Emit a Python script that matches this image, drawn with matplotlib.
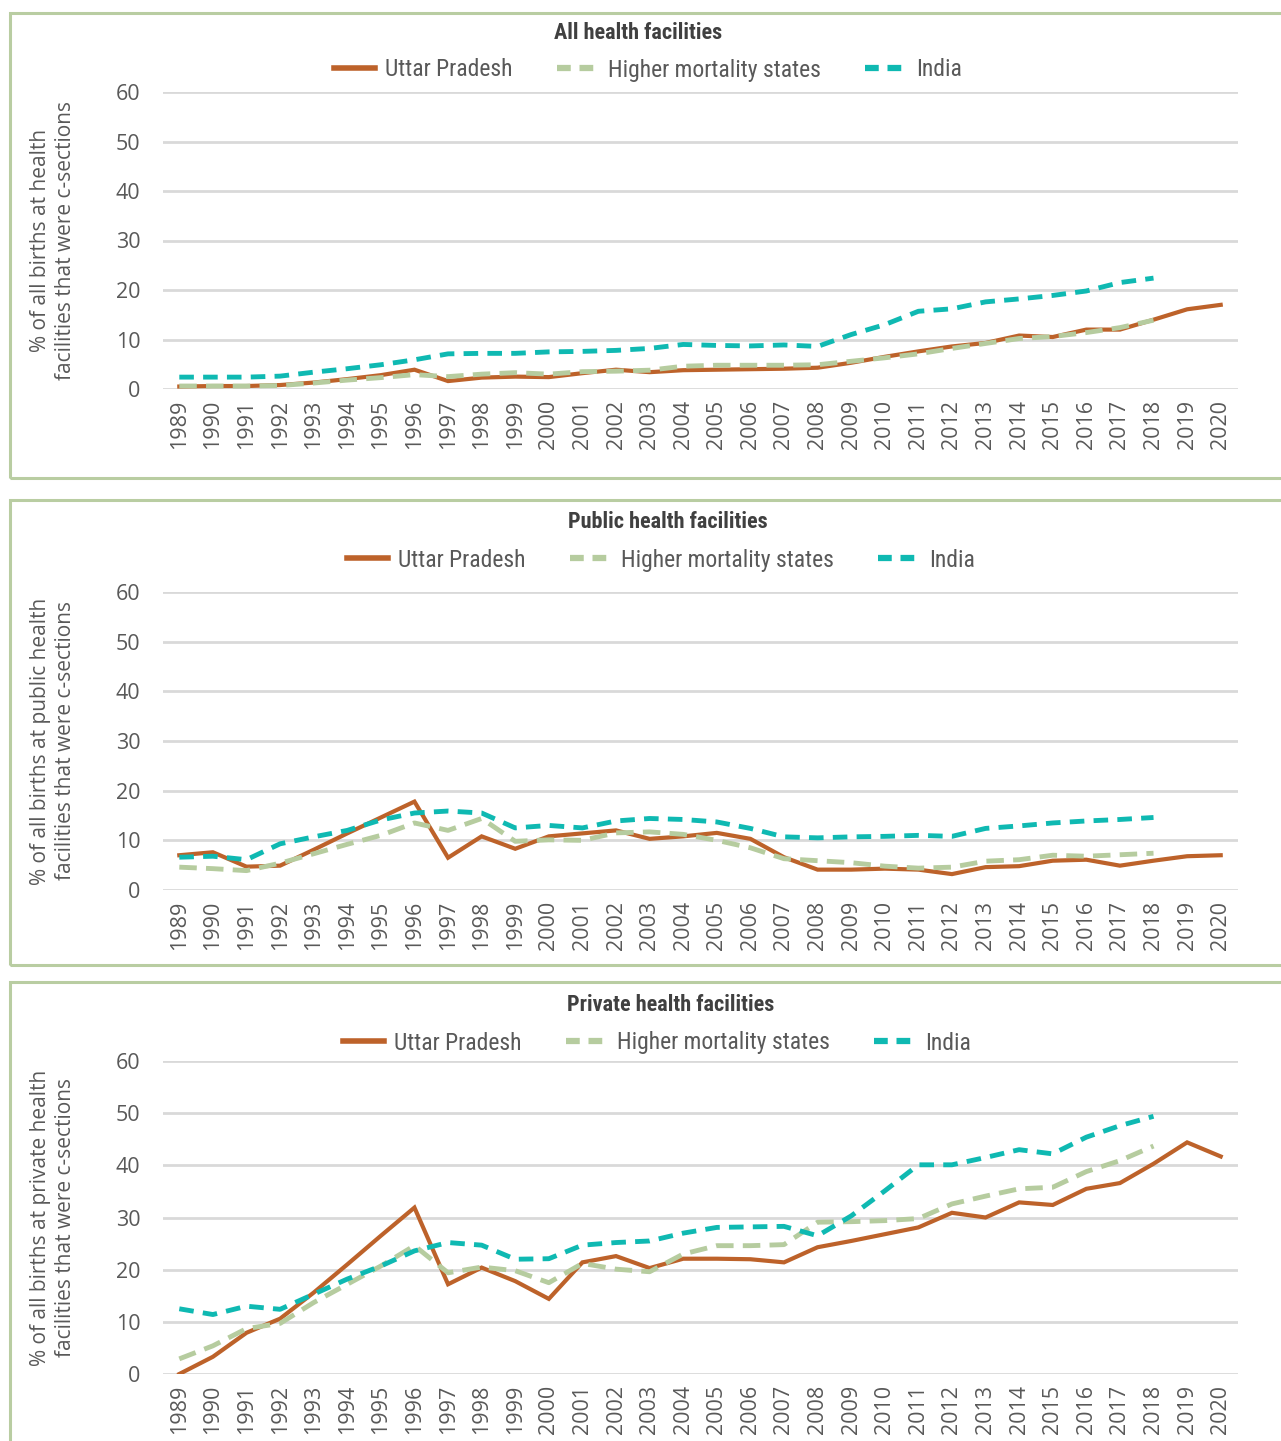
import matplotlib
matplotlib.use("Agg")
import matplotlib.pyplot as plt
from matplotlib import font_manager
from matplotlib.patches import Rectangle
from matplotlib.lines import Line2D

years = list(range(1989, 2021))
years_to2018 = list(range(1989, 2019))

all_up = [0.5, 0.6, 0.6, 0.8, 1.3, 2.0, 2.8, 3.9, 1.6, 2.3, 2.5, 2.4, 3.2, 3.9, 3.4, 3.8,
          3.9, 4.0, 4.1, 4.3, 5.3, 6.5, 7.6, 8.6, 9.3, 10.8, 10.5, 12.0, 12.0, 14.0, 16.1, 17.0]
all_hms = [0.6, 0.6, 0.6, 0.7, 1.2, 1.8, 2.3, 2.9, 2.5, 3.0, 3.3, 3.0, 3.5, 3.6, 3.8, 4.6,
           4.8, 4.8, 4.8, 4.9, 5.6, 6.3, 7.1, 8.2, 9.2, 10.2, 10.6, 11.4, 12.4, 13.9]
all_india = [2.4, 2.4, 2.4, 2.6, 3.4, 4.1, 4.9, 5.9, 7.1, 7.2, 7.2, 7.5, 7.6, 7.8, 8.2, 9.0,
             8.8, 8.7, 8.9, 8.6, 11.0, 13.0, 15.7, 16.2, 17.6, 18.2, 18.9, 19.8, 21.5, 22.4]

pub_up = [7.0, 7.6, 4.7, 4.9, 8.1, 11.4, 14.6, 17.8, 6.5, 10.8, 8.3, 10.8, 11.4, 12.0, 10.3, 10.8,
          11.5, 10.3, 6.6, 4.1, 4.1, 4.3, 4.1, 3.2, 4.6, 4.8, 5.9, 6.1, 4.9, 5.9, 6.8, 7.0]
pub_hms = [4.6, 4.3, 3.9, 5.4, 7.3, 9.2, 11.0, 13.5, 12.0, 14.4, 9.8, 10.1, 10.0, 11.5, 11.7, 11.2,
           10.0, 8.5, 6.3, 5.9, 5.5, 4.8, 4.4, 4.6, 5.8, 6.1, 7.0, 6.8, 7.1, 7.4]
pub_india = [6.6, 6.8, 6.1, 9.3, 10.7, 12.0, 14.1, 15.5, 15.9, 15.5, 12.5, 13.0, 12.5, 13.9, 14.4, 14.2,
             13.7, 12.4, 10.7, 10.5, 10.7, 10.8, 11.0, 10.8, 12.4, 12.9, 13.5, 13.9, 14.2, 14.6]

priv_up = [0.0, 3.3, 7.9, 10.6, 15.6, 21.0, 26.5, 31.9, 17.2, 20.4, 17.8, 14.4, 21.4, 22.6, 20.3, 22.1,
           22.1, 22.0, 21.4, 24.3, 25.5, 26.8, 28.1, 30.9, 30.0, 32.9, 32.4, 35.5, 36.6, 40.3, 44.4, 41.7]
priv_hms = [2.9, 5.4, 8.7, 9.7, 13.7, 17.2, 20.7, 24.6, 19.4, 20.5, 19.8, 17.5, 21.2, 20.1, 19.6, 23.0,
            24.6, 24.6, 24.8, 29.1, 29.2, 29.4, 29.8, 32.6, 34.1, 35.5, 35.8, 38.8, 40.9, 43.7]
priv_india = [12.5, 11.4, 13.0, 12.4, 15.3, 18.2, 20.7, 23.6, 25.2, 24.7, 22.0, 22.1, 24.7, 25.2, 25.5, 27.0,
              28.1, 28.2, 28.3, 26.5, 30.3, 35.1, 40.1, 40.1, 41.5, 43.0, 42.2, 45.4, 47.6, 49.4]

titles = ["All health facilities", "Public health facilities", "Private health facilities"]
ylabels = ["% of all births at health\nfacilities that were c-sections",
           "% of all births at public health\nfacilities that were c-sections",
           "% of all births at private health\nfacilities that were c-sections"]
series_names = ["Uttar Pradesh", "Higher mortality states", "India"]
yticks = [0, 10, 20, 30, 40, 50, 60]

panels = [(all_up, all_hms, all_india), (pub_up, pub_hms, pub_india), (priv_up, priv_hms, priv_india)]

available = {f.name for f in font_manager.fontManager.ttflist}
def pick(*names):
    for n in names:
        if n in available:
            return n
    return "DejaVu Sans"

body_font = pick("Open Sans", "Noto Sans", "Liberation Sans")
narrow_font = pick("Liberation Sans Narrow", "Roboto Condensed", "Liberation Sans")

C_UP = "#BD622A"
C_HMS = "#B6CC9F"
C_IND = "#0FB9B2"
C_GRID = "#D9D9D9"
C_TXT = "#595959"
C_BORDER = "#B9CDA2"

W, H = 1281, 1441
fig = plt.figure(figsize=(W / 100, H / 100), dpi=100)

def fx(px):
    return px / W
def fy(py):
    return 1 - py / H

# panel geometry in pixels: (top of 60 grid, y of 0 grid, border top, border bottom, title y, legend y, title x, legend x)
geom = [(92, 389, 13, 478, 33, 70, 638, 648),
        (592, 890, 500, 965, 522, 560, 668, 661),
        (1061, 1374, 982, 1450, 1005, 1043, 671, 657)]

x_left, x_right = 162.5, 1237.5

for i, (vals, g) in enumerate(zip(panels, geom)):
    top, bot, btop, bbot, ty, ly, tx, lx = g
    fig.patches.append(Rectangle((fx(10), fy(bbot)), fx(1400), (bbot - btop) / H,
                                 transform=fig.transFigure, fill=False,
                                 edgecolor=C_BORDER, linewidth=2.2, zorder=0))
    ax = fig.add_axes([fx(x_left), fy(bot), (x_right - x_left) / W, (bot - top) / H])
    up, hms, ind = vals
    ax.plot(years, up, color=C_UP, lw=3.0, solid_joinstyle="miter", zorder=3)
    ax.plot(years_to2018, hms, color=C_HMS, lw=3.5, dashes=(3.6, 1.9),
            dash_capstyle="butt", zorder=4)
    ax.plot(years_to2018, ind, color=C_IND, lw=3.5, dashes=(3.0, 1.9),
            dash_capstyle="butt", zorder=5)
    ax.set_xlim(1988.5, 2020.5)
    ax.set_ylim(0, 60)
    ax.set_yticks(yticks)
    ax.set_xticks(years)
    ax.set_xticklabels([str(y) for y in years], rotation=90, fontsize=15.5,
                       color=C_TXT, family=body_font)
    ax.set_yticklabels([str(v) for v in yticks], fontsize=15.5, color=C_TXT, family=body_font)
    ax.tick_params(axis="both", length=0)
    ax.tick_params(axis="y", pad=16)
    ax.tick_params(axis="x", pad=8)
    for s in ax.spines.values():
        s.set_visible(False)
    ax.grid(axis="y", color=C_GRID, lw=2.0)
    ax.set_axisbelow(True)
    ax.patch.set_alpha(0)
    fig.text(fx(53), fy((top + bot) / 2), ylabels[i], rotation=90, ha="center", va="center",
             fontsize=15, color=C_TXT, family=body_font, linespacing=1.3)
    fig.text(fx(tx), fy(ty), titles[i], ha="center", va="center",
             fontsize=16, fontweight="bold", color="#404040", family=narrow_font)
    handles = [Line2D([], [], color=C_UP, lw=4.0),
               Line2D([], [], color=C_HMS, lw=4.5, dashes=(2.2, 1.4), dash_capstyle="butt"),
               Line2D([], [], color=C_IND, lw=4.5, dashes=(2.2, 1.4), dash_capstyle="butt")]
    fig.legend(handles, series_names, loc="center", bbox_to_anchor=(fx(lx), fy(ly)),
               ncol=3, frameon=False, handlelength=1.75, columnspacing=1.9, handletextpad=0.4,
               prop={"family": narrow_font, "size": 17}, labelcolor=C_TXT)

fig.savefig("out.png", dpi=100, facecolor="white")
